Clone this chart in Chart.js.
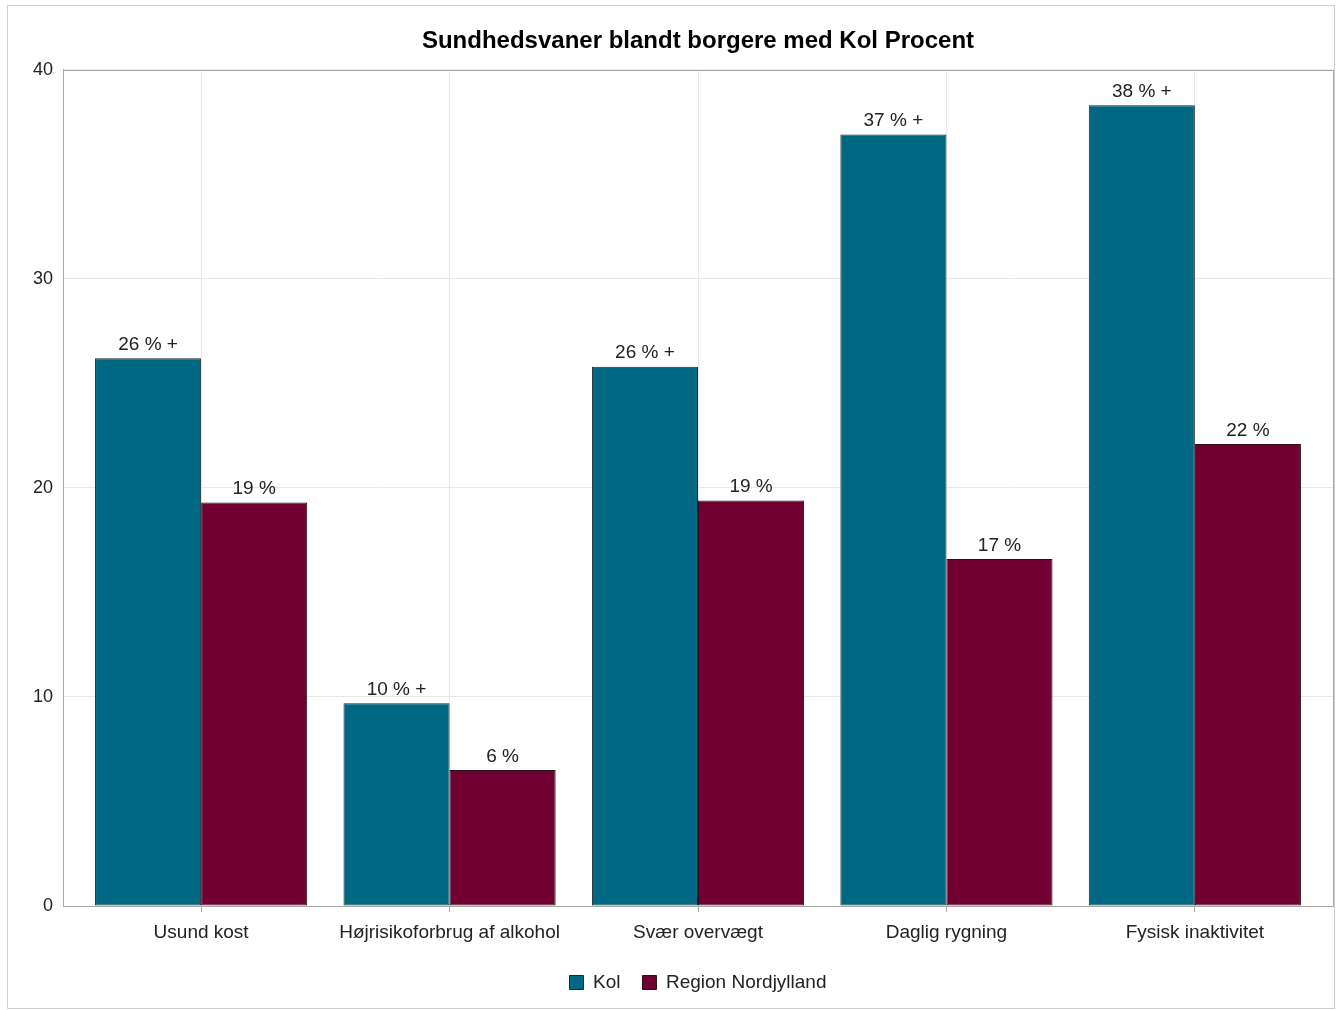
<!DOCTYPE html>
<html>
<head>
<meta charset="utf-8">
<script src="https://cdn.jsdelivr.net/npm/chart.js@4.4.1/dist/chart.umd.min.js"></script>
<style>
  body { margin: 0; background: #fff; }
  #frame { position: absolute; left: 7px; top: 5px; width: 1326px; height: 1002px; border: 1px solid #cfcfcf; }
  #wrap { position: absolute; left: 0; top: 0; width: 1337px; height: 1010px; }
</style>
</head>
<body>
<div id="frame"></div>
<div id="wrap"><canvas id="chart" width="1337" height="1010"></canvas></div>
<script>
// Categories and values
const categories = ["Usund kost", "Højrisikoforbrug af alkohol", "Svær overvægt", "Daglig rygning", "Fysisk inaktivitet"];
const kolValues = [26.2, 9.7, 25.8, 36.9, 38.3];
const regionValues = [19.3, 6.5, 19.4, 16.6, 22.1];
const kolLabels = ["26 % +", "10 % +", "26 % +", "37 % +", "38 % +"];
const regionLabels = ["19 %", "6 %", "19 %", "17 %", "22 %"];
const yTicks = [0, 10, 20, 30, 40];

const fontFamily = "'Liberation Sans', Arial, sans-serif";

// Draw value labels above each bar
const barLabels = {
  id: "barLabels",
  afterDatasetsDraw(chart) {
    const ctx = chart.ctx;
    ctx.save();
    ctx.font = "19px " + fontFamily;
    ctx.fillStyle = "#222";
    ctx.textAlign = "center";
    ctx.textBaseline = "bottom";
    chart.data.datasets.forEach((ds, i) => {
      chart.getDatasetMeta(i).data.forEach((bar, j) => {
        ctx.fillText(ds.valueLabels[j], bar.x, bar.y - 4);
      });
    });
    ctx.restore();
  }
};

// Frame around plot area
const plotFrame = {
  id: "plotFrame",
  afterDraw(chart) {
    const a = chart.chartArea;
    const ctx = chart.ctx;
    ctx.save();
    ctx.strokeStyle = "#a8a8a8";
    ctx.lineWidth = 1;
    ctx.strokeRect(Math.round(a.left) + 0.5, Math.round(a.top) + 0.5, Math.round(a.right - a.left), Math.round(a.bottom - a.top));
    ctx.restore();
  }
};

new Chart(document.getElementById("chart"), {
  type: "bar",
  data: {
    labels: categories,
    datasets: [
      {
        label: "Kol",
        data: kolValues,
        valueLabels: kolLabels,
        backgroundColor: "#006882",
        borderColor: "#1a2a30",
        borderWidth: 1,
        borderSkipped: false
      },
      {
        label: "Region Nordjylland",
        data: regionValues,
        valueLabels: regionLabels,
        backgroundColor: "#700032",
        borderColor: "#2a1018",
        borderWidth: 1,
        borderSkipped: false
      }
    ]
  },
  options: {
    responsive: false,
    animation: false,
    layout: { padding: { left: 8, right: 4, top: 0, bottom: 8 } },
    datasets: { bar: { categoryPercentage: 0.854, barPercentage: 1 } },
    plugins: {
      title: {
        display: true,
        text: "Sundhedsvaner blandt borgere med Kol Procent",
        fullSize: false,
        color: "#000",
        font: { family: fontFamily, size: 24, weight: "bold" },
        padding: { top: 27, bottom: 14 }
      },
      legend: {
        position: "bottom",
        fullSize: false,
        labels: {
          color: "#222",
          font: { family: fontFamily, size: 19 },
          boxWidth: 14,
          boxHeight: 14,
          padding: 22
        }
      },
      tooltip: { enabled: false }
    },
    scales: {
      x: {
        offset: false,
        grid: { offset: false, color: "#e8e8e8", tickColor: "#a8a8a8", tickLength: 6 },
        border: { color: "#a8a8a8" },
        ticks: { color: "#222", font: { family: fontFamily, size: 19 }, padding: 9, maxRotation: 0 },
        // extra room on both ends of the category axis, as in the original
        afterBuildTicks(scale) {
          scale._startValue = -0.556;
          scale._valueRange = categories.length - 1 + 1.112;
        },
        afterFit(scale) { scale.height = 45; }
      },
      y: {
        min: 0,
        max: 40,
        afterBuildTicks(scale) { scale.ticks = yTicks.map(v => ({ value: v })); },
        grid: { color: "#e8e8e8", drawTicks: false },
        border: { color: "#a8a8a8" },
        ticks: { color: "#222", font: { family: fontFamily, size: 18 }, padding: 10 },
        afterFit(scale) { scale.width = 55; }
      }
    }
  },
  plugins: [barLabels, plotFrame]
});
</script>
</body>
</html>
